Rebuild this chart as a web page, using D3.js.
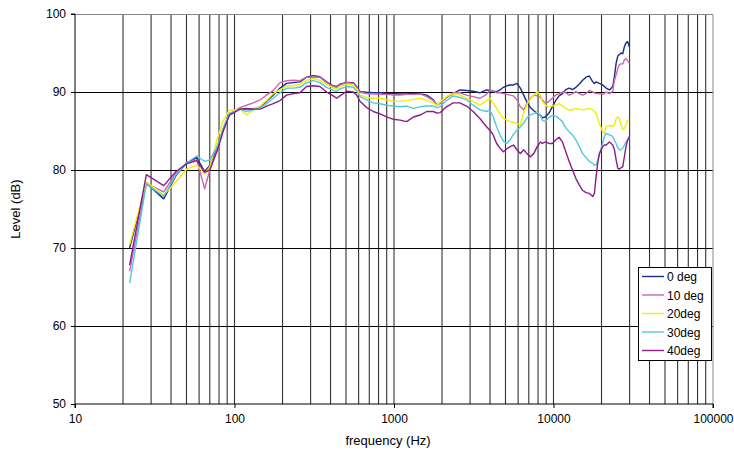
<!DOCTYPE html>
<html>
<head>
<meta charset="utf-8">
<script src="https://cdn.jsdelivr.net/npm/d3@7"></script>
<style>
  body { margin: 0; background: #fff; }
  svg { font-family: "Liberation Sans", Arial, sans-serif; }
</style>
</head>
<body>
<svg id="chart" width="734" height="451"></svg>
<script>
// frequency response, off-axis measurements

var freqs = [22, 28, 36, 43, 50, 58, 65, 70, 78, 85, 93, 100, 108, 119, 131, 145, 159, 175, 193, 212,
  234, 257, 283, 312, 343, 378, 416, 437, 458, 505, 556, 584, 612, 674, 742, 817, 900, 991, 1091, 1202,
  1323, 1457, 1604, 1767, 1855, 1940, 2133, 2349, 2587, 2850, 3137, 3455, 3805, 3990, 4190, 4400, 4622, 4850, 5090, 5350,
  5610, 5900, 6200, 6500, 6820, 7170, 7520, 7900, 8290, 8500, 8920, 9370, 9830, 10320, 10830, 11380, 11940, 12540, 13160, 13820,
  14500, 15230, 15990, 16780, 17620, 18050, 18500, 18920, 19380, 20350, 20850, 21370, 22420, 23540, 24100, 24700, 25300, 25900, 26500, 27170,
  27820, 28480, 29170, 29880]

var deg0 = [70.0, 78.3, 76.3, 79.3, 80.9, 81.6, 79.8, 80.6, 83.0, 85.3, 87.1, 87.5, 87.8, 87.8, 87.8, 88.1, 88.8, 89.6, 90.5, 91.1,
  91.2, 91.3, 91.9, 92.1, 91.96, 91.3, 90.77, 90.7, 91.0, 91.24, 91.2, 90.7, 90.04, 89.96, 89.9, 89.9, 89.8, 89.8, 89.75, 89.74,
  89.8, 89.8, 89.6, 89.0, 88.3, 88.6, 89.3, 89.8, 90.26, 90.2, 90.1, 89.9, 90.26, 90.2, 90.1, 90.04, 90.26, 90.6, 90.8, 90.9,
  90.9, 91.1, 90.5, 89.6, 88.7, 88.0, 87.6, 87.3, 87.0, 86.7, 86.8, 87.3, 88.1, 88.9, 89.5, 89.8, 90.3, 90.5, 90.3, 90.6,
  91.0, 91.5, 91.9, 92.05, 91.3, 91.1, 91.3, 91.2, 91.1, 90.9, 90.7, 90.5, 90.26, 90.7, 92.0, 93.7, 94.6, 94.8, 95.0, 94.9,
  95.8, 96.3, 96.45, 95.8]

var deg10 = [67.0, 78.3, 77.2, 79.6, 80.9, 81.3, 77.6, 80.0, 82.8, 85.2, 87.2, 87.6, 88.0, 88.3, 88.6, 89.0, 89.6, 90.2, 91.2, 91.45,
  91.5, 91.45, 91.9, 91.9, 91.9, 91.2, 90.7, 90.6, 90.9, 91.2, 91.1, 90.6, 89.95, 89.8, 89.75, 89.7, 89.7, 89.6, 89.6, 89.7,
  89.7, 89.75, 89.4, 88.9, 88.3, 88.5, 89.3, 89.9, 89.9, 89.6, 89.4, 89.2, 89.7, 90.2, 90.1, 89.9, 89.9, 89.8, 89.7, 89.6,
  89.5, 89.0, 88.1, 87.7, 88.55, 89.2, 89.6, 89.5, 89.3, 89.0, 88.5, 88.8, 89.2, 89.6, 89.8, 90.0, 89.9, 89.6, 89.8, 90.04,
  89.8, 89.6, 89.8, 90.2, 90.0, 89.9, 89.8, 89.8, 89.8, 89.7, 89.8, 90.0, 89.8, 90.1, 91.5, 92.2, 93.0, 93.5, 93.6, 93.6,
  94.1, 94.3, 94.0, 93.7]

var deg20 = [70.4, 78.5, 76.8, 78.5, 80.1, 80.6, 79.5, 80.4, 84.0, 86.3, 87.7, 87.7, 87.8, 87.05, 87.7, 88.2, 88.9, 89.8, 90.3, 90.8,
  90.8, 91.0, 91.5, 91.75, 91.5, 91.0, 90.5, 90.4, 90.7, 91.0, 90.9, 90.4, 89.6, 89.3, 89.2, 89.2, 89.0, 88.8, 88.8, 88.9,
  89.05, 89.2, 88.9, 88.6, 88.3, 88.7, 89.4, 89.8, 89.6, 89.2, 88.8, 88.3, 88.9, 89.2, 88.6, 87.9, 87.2, 86.6, 86.4, 86.2,
  86.1, 85.95, 85.8, 87.3, 88.4, 89.2, 89.6, 90.0, 89.6, 88.8, 88.3, 88.1, 88.2, 88.3, 88.5, 88.2, 87.9, 87.7, 87.7, 87.9,
  87.8, 87.7, 87.8, 87.9, 87.7, 87.5, 87.3, 86.6, 86.0, 84.9, 84.7, 85.55, 85.7, 85.6, 85.8, 86.6, 86.8, 86.6, 85.8, 85.2,
  85.3, 85.8, 86.4, 86.4]

var deg30 = [65.5, 78.2, 76.6, 79.4, 80.9, 81.8, 81.1, 81.3, 83.0, 85.4, 87.3, 87.5, 87.8, 87.5, 87.7, 88.0, 88.5, 89.2, 89.9, 90.5,
  90.5, 90.6, 91.2, 91.45, 91.2, 90.6, 90.2, 90.1, 90.4, 90.7, 90.6, 90.1, 89.4, 89.0, 88.6, 88.5, 88.3, 88.2, 88.1, 88.2,
  87.9, 88.1, 88.2, 88.2, 88.0, 88.1, 88.9, 89.5, 89.3, 89.0, 88.3, 87.7, 87.5, 87.7, 86.8, 85.55, 84.5, 83.7, 83.4, 83.85,
  84.6, 85.1, 85.55, 86.0, 86.7, 87.1, 87.2, 87.4, 87.0, 86.4, 86.2, 86.75, 87.0, 86.9, 86.6, 86.2, 85.4, 84.9, 84.5, 83.85,
  83.0, 82.1, 81.6, 81.1, 80.85, 80.6, 80.7, 81.2, 81.9, 83.5, 84.3, 84.7, 84.5, 84.3, 83.8, 83.4, 82.8, 82.6, 82.6, 82.8,
  83.2, 83.6, 83.85, 84.1]

var deg40 = [67.8, 79.4, 78.0, 79.8, 80.8, 81.2, 79.7, 80.0, 82.5, 85.0, 87.05, 87.4, 87.8, 87.9, 87.8, 87.8, 88.2, 88.5, 88.9, 89.6,
  89.8, 89.9, 90.7, 90.8, 90.7, 90.0, 89.5, 89.2, 89.5, 90.1, 90.0, 89.6, 88.8, 88.0, 87.5, 87.2, 86.8, 86.5, 86.4, 86.2,
  86.8, 87.05, 87.5, 87.5, 87.3, 87.35, 88.1, 88.6, 88.6, 88.2, 87.5, 86.6, 85.55, 85.1, 84.5, 83.4, 82.8, 82.35, 82.7, 83.0,
  83.2, 82.6, 82.1, 82.6, 82.1, 81.7, 82.1, 83.0, 83.6, 83.4, 83.6, 83.4, 83.4, 83.85, 84.2, 83.6, 82.35, 81.1, 80.0, 78.9,
  78.1, 77.4, 77.1, 77.0, 76.6, 77.0, 79.15, 80.85, 82.1, 83.0, 83.2, 83.2, 83.6, 83.2, 82.6, 81.3, 80.2, 80.1, 80.3, 80.4,
  81.7, 83.0, 83.85, 84.3]

var seriesNames = ["0 deg", "10 deg", "20deg", "30deg", "40deg"]
var seriesColors = ["#1f2b8c", "#cc66b0", "#f2ee00", "#55c8e0", "#8c1c8c"]
var yTicks = [50, 60, 70, 80, 90, 100]
var xTicks = [10, 100, 1000, 10000, 100000]

var allSeries = [deg0, deg10, deg20, deg30, deg40]

var svg = d3.select('#chart')

var x = d3.scaleLog().domain([10, 100000]).range([75, 713])
var y = d3.scaleLinear().domain([50, 100]).range([404, 14])

// vertical grid (log minor + decade lines)
var vGrid = []
xTicks.slice(0, 4).forEach(d => {
    for (var k = 1; k <= 9; k++) {
        if (d * k > 10) vGrid.push(d * k)
    }
})

svg.append('g')
    .selectAll('line')
    .data(vGrid)
    .join('line')
    .attr('x1', d => x(d)).attr('x2', d => x(d))
    .attr('y1', y(100)).attr('y2', y(50))
    .attr('stroke', '#333')
    .attr('stroke-width', 1.1)

// horizontal grid
svg.append('g')
    .selectAll('line')
    .data(yTicks.slice(1, 5))
    .join('line')
    .attr('x1', x(10)).attr('x2', x(100000))
    .attr('y1', d => Math.round(y(d)) + 0.5).attr('y2', d => Math.round(y(d)) + 0.5)
    .attr('stroke', '#000')

// plot border top / right
svg.append('path')
    .attr('d', `M${x(10)},${y(100) + 0.5}H${x(100000)}V${y(50)}`)
    .attr('fill', 'none')
    .attr('stroke', '#888')

// series
var line = d3.line()
    .x((d, i) => x(freqs[i]))
    .y(d => y(d))

svg.append('g')
    .selectAll('path')
    .data(allSeries)
    .join('path')
    .attr('d', d => line(d))
    .attr('fill', 'none')
    .attr('stroke', (d, i) => seriesColors[i])
    .attr('stroke-width', 1.4)
    .attr('stroke-linejoin', 'round')

// axes
var yAxis = svg.append('g')
    .attr('transform', `translate(${x(10)},0)`)
    .call(d3.axisLeft(y).tickValues(yTicks).tickSize(4).tickPadding(5))
var xAxis = svg.append('g')
    .attr('transform', `translate(0,${y(50)})`)
    .call(d3.axisBottom(x).tickValues(xTicks).tickFormat(d3.format('d')).tickSize(4).tickPadding(6))

svg.selectAll('.domain').attr('stroke', '#000')
svg.selectAll('.tick line').attr('stroke', '#000')
svg.selectAll('.tick text').attr('font-size', 12).attr('fill', '#000')
    .attr('font-family', '"Liberation Sans", Arial, sans-serif')
yAxis.select('.domain').attr('d', `M-4,${y(100)}H0V${y(50)}`)
xAxis.select('.domain').attr('d', `M${x(10)},4V0H${x(100000)}V4`)

// axis titles
svg.append('text')
    .attr('x', 388).attr('y', 445)
    .attr('text-anchor', 'middle')
    .attr('font-size', 13)
    .text('frequency (Hz)')

svg.append('text')
    .attr('transform', `translate(20,${(y(100) + y(50)) / 2}) rotate(-90)`)
    .attr('text-anchor', 'middle')
    .attr('font-size', 13)
    .text('Level (dB)')

// legend
var legend = svg.append('g').attr('transform', 'translate(638,267)')
legend.append('rect')
    .attr('x', 0.5).attr('y', 0.5)
    .attr('width', 73).attr('height', 93)
    .attr('fill', '#fff')
    .attr('stroke', '#000')

var items = legend.selectAll('.item')
    .data(seriesNames)
    .join('g')
    .attr('class', 'item')
    .attr('transform', (d, i) => `translate(0,${9.5 + i * 18.5})`)

items.append('line')
    .attr('x1', 4).attr('x2', 26)
    .attr('stroke', (d, i) => seriesColors[i])
    .attr('stroke-width', 1.4)

items.append('text')
    .attr('x', 29).attr('y', 4.5)
    .attr('font-size', 12)
    .text(d => d)
</script>
</body>
</html>
